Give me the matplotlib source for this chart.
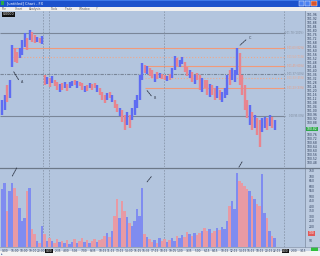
import matplotlib
matplotlib.use("Agg")
import matplotlib.pyplot as plt
from matplotlib.patches import Rectangle

# ---------------- data ----------------
bar_high = [101.11, 101.16, 101.26, 101.31, 101.66, 101.63, 101.59, 101.63, 101.71, 101.78,
            101.73, 101.81, 101.79, 101.76, 101.74, 101.73, 101.75, 101.36, 101.34, 101.33,
            101.35, 101.31, 101.29, 101.27, 101.28, 101.29, 101.27, 101.29, 101.30, 101.31,
            101.30, 101.29, 101.28, 101.25, 101.26, 101.28, 101.27, 101.28, 101.26, 101.23,
            101.19, 101.16, 101.18, 101.19, 101.16, 101.11, 101.07, 101.03, 101.01, 100.96,
            100.99, 100.96, 101.03, 101.11, 101.16, 101.36, 101.48, 101.46, 101.45, 101.43,
            101.41, 101.37, 101.39, 101.38, 101.37, 101.36, 101.35, 101.37, 101.43, 101.55,
            101.53, 101.51, 101.54, 101.49, 101.44, 101.41, 101.39, 101.36, 101.38, 101.36,
            101.33, 101.31, 101.31, 101.27, 101.26, 101.23, 101.25, 101.21, 101.19, 101.23,
            101.36, 101.41, 101.43, 101.41, 101.63, 101.58, 101.36, 101.26, 101.11, 101.06,
            100.99, 100.96, 100.93, 100.91, 100.93, 100.94, 100.93, 100.96, 100.94, 100.91]
bar_low = [100.96, 101.01, 101.09, 101.13, 101.44, 101.49, 101.48, 101.53, 101.56, 101.64,
           101.61, 101.71, 101.69, 101.68, 101.69, 101.68, 101.67, 101.26, 101.27, 101.24,
           101.28, 101.25, 101.21, 101.19, 101.21, 101.23, 101.20, 101.23, 101.25, 101.26,
           101.23, 101.25, 101.21, 101.19, 101.20, 101.23, 101.21, 101.23, 101.19, 101.16,
           101.11, 101.08, 101.11, 101.13, 101.09, 101.03, 100.99, 100.95, 100.89, 100.81,
           100.86, 100.83, 100.91, 100.96, 101.03, 101.11, 101.31, 101.38, 101.37, 101.35,
           101.33, 101.29, 101.32, 101.33, 101.32, 101.31, 101.30, 101.31, 101.33, 101.41,
           101.45, 101.44, 101.47, 101.39, 101.35, 101.33, 101.29, 101.27, 101.31, 101.21,
           101.19, 101.23, 101.16, 101.14, 101.16, 101.11, 101.13, 101.11, 101.09, 101.13,
           101.16, 101.26, 101.31, 101.29, 101.36, 101.26, 101.16, 101.01, 100.93, 100.86,
           100.81, 100.83, 100.76, 100.64, 100.79, 100.83, 100.81, 100.85, 100.83, 100.81]
bar_up = [1, 1, 0, 1, 1, 0, 0, 1, 1, 1, 0, 1, 0, 0, 1, 0, 1,
          0, 1, 0, 1, 0, 0, 1, 0, 1, 0, 1, 1, 0, 1, 0, 0, 1, 0, 1, 0, 0, 1, 0,
          0, 0, 1, 0, 1, 0, 0, 1, 0, 0, 1, 0, 1, 1, 1, 1, 1,
          0, 1, 0, 0, 1, 0, 1, 0, 0, 1, 0, 1,
          1, 0, 1, 1, 0, 0, 1, 0, 1, 0, 0, 1, 0, 0, 1, 0, 0, 1, 0, 1, 1, 1, 0, 1, 1,
          1, 0, 0, 0, 0, 1, 0, 1, 0, 0, 1, 1, 0, 1, 0, 1]
volume = [580, 640, 360, 560, 640, 590, 510, 390, 260, 290,
          560, 590, 180, 130, 60, 40, 210, 130, 60, 90,
          60, 40, 80, 50, 60, 40, 70, 30, 50, 80,
          40, 60, 90, 50, 70, 40, 60, 80, 50, 70,
          80, 110, 140, 100, 160, 310, 480, 290, 460, 360,
          300, 240, 210, 260, 380, 310, 590, 130, 100, 80,
          50, 70, 40, 90, 60, 80, 50, 70, 90, 60,
          110, 90, 120, 100, 150, 130, 110, 140, 120, 140,
          160, 190, 160, 180, 140, 160, 190, 170, 200, 180,
          260, 410, 460, 380, 740, 660, 640, 610, 580, 560,
          510, 480, 430, 410, 730, 340, 290, 160, 110, 90]

level_prices = [101.78, 101.63, 101.54, 101.45, 101.37, 101.33, 101.23, 100.95]
level_labels = ["101.78 (100%)", "101.63 (82%)", "101.54 (71%)", "101.45 (60%)",
                "101.37 (50%)", "101.33 (45%)", "101.23 (33%)", "100.95 (0%)"]
level_start = [-0.8, 4, 4, 57, -0.8, 57, 57, -0.8]
level_color = ["#7a8698", "#f09a7a", "#f0a88a", "#f09a7a", "#7a8698", "#f0a88a", "#f09a7a", "#7a8698"]
level_style = ["-", "-", ":", "-", (0, (3, 1, 1, 1)), ":", "-", "-"]

session_marks = [16.4, 18.8, 64.8, 112.8]

price_ticks = [round(100.48 + 0.04 * k, 2) for k in range(38)]
volume_ticks = [50, 100, 150, 200, 250, 300, 350, 400, 450, 500, 550, 600, 650, 700, 750]

time_labels = ["0:00", "16:00", "18:00", "19:00", "20:00", "0:00", "2:35", "4:00", "5:05",
               "7:00", "8:35", "10:15", "11:15", "13:15", "14:30", "15:15", "16:35", "17:15",
               "18:15", "19:05", "1:00", "3:35", "5:00", "6:15", "8:15", "10:15", "12:15",
               "14:15", "16:15", "18:15", "20:15", "22:15", "0:00", "2:00", "3:15"]
time_boxed = [5, 32]

current_price = 100.82
current_volume = 130

# annotations: (bar index, value, dx px, dy px, letter)
price_notes = [(4, 101.42, 8, -13, "A"), (57.2, 101.23, 8, -10, "B"), (94.4, 101.64, 10, 9, "C")]
volume_notes = [(3.6, 680, 7, 13), (57.2, 620, 8, 10), (94.2, 770, 6, 10)]

# ---------------- figure ----------------
W, H = 320, 256
fig = plt.figure(figsize=(W / 100, H / 100), dpi=100)
BG = "#b3c5de"
BLUE = "#5e6cf2"
PINK = "#e8848e"
VBLUE = "#7f8cf0"
VPINK = "#e89aa4"

chrome = fig.add_axes([0, 0, 1, 1])
chrome.set_xlim(0, W)
chrome.set_ylim(H, 0)
chrome.axis("off")
chrome.add_patch(Rectangle((0, 10), W, 242, color=BG, lw=0))
# title bar
chrome.add_patch(Rectangle((0, 0), W, 6.5, color="#1c52cc", lw=0))
chrome.add_patch(Rectangle((0, 0), W, 1.2, color="#3d78e8", lw=0))
chrome.add_patch(Rectangle((1, 1), 3, 4, color="#2aa84a", lw=0))
chrome.text(7, 3.3, "[untitled] Chart - FX", color="white", fontsize=2.6, va="center")
chrome.add_patch(Rectangle((298.5, 1), 5, 4.5, color="#4a7ff0", ec="white", lw=0.3))
chrome.add_patch(Rectangle((304.5, 1), 5, 4.5, color="#4a7ff0", ec="white", lw=0.3))
chrome.add_patch(Rectangle((310.5, 1), 6, 4.5, color="#d9532b", ec="white", lw=0.3))
# menu bar
chrome.add_patch(Rectangle((0, 6.5), W, 4, color="#efefef", lw=0))
mx = 2
for item in ["File", "Chart", "Analysis", "Tools", "Trade", "Window", "?"]:
    chrome.text(mx, 8.6, item, fontsize=2.2, color="#606060", va="center")
    mx += 4 + 2.1 * len(item)
# right axis column, time strip, status bar
chrome.add_patch(Rectangle((305, 10.5), 15, 236, color="#bccbe0", lw=0))
chrome.plot([305, 305], [10.5, 246.5], color="#8494aa", lw=0.6)
chrome.add_patch(Rectangle((0, 246.5), W, 4.5, color="#c6d2e4", lw=0))
chrome.plot([0, W], [246.5, 246.5], color="#8494aa", lw=0.5)
chrome.add_patch(Rectangle((0, 251), W, 5, color="#f3f3f3", lw=0))
chrome.text(1, 253.6, "\u25b8", fontsize=2.5, color="#4060a0", va="center")
chrome.plot([0, W], [167.5, 167.5], color="#6c7888", lw=0.9)
chrome.add_patch(Rectangle((2, 12), 13, 4.5, color="#111111", lw=0))
chrome.text(8.5, 14.3, "0.0000", color="white", fontsize=2.3, ha="center", va="center")
chrome.add_patch(Rectangle((311, 247), 7, 3.5, color="#2fbf3c", lw=0))

# price axes
x_lo, x_hi = -0.8, 121.2
pax = fig.add_axes([0, 1 - 167 / H, 305 / W, 156 / H])
pax.set_facecolor("none")
pax.set_xlim(x_lo, x_hi)
pax.set_ylim(100.44, 102.00)
pax.axis("off")

for lv, lab, st, col, ls in zip(level_prices, level_labels, level_start, level_color, level_style):
    pax.hlines(lv, st, x_lo + (x_hi - x_lo) * 285 / 305, color=col, lw=0.8, linestyles=[ls], zorder=1)
    pax.text(0.996, lv, lab, transform=pax.get_yaxis_transform(), fontsize=1.8,
             color=col, va="center", ha="right", clip_on=False)

for sm in session_marks:
    pax.axvline(sm, color="#8a98ac", lw=0.6, ls=(0, (2, 1.5)), zorder=1)

idx = list(range(len(bar_high)))
cols = [BLUE if u else PINK for u in bar_up]
pax.vlines(idx, bar_low, bar_high, colors=cols, lw=1.7, zorder=3)

for (bx, bv, dx, dy, letter) in price_notes:
    pax.annotate("", xy=(bx, bv), xytext=(dx * 0.72, dy * 0.72), textcoords="offset points",
                 arrowprops=dict(arrowstyle="-", color="#303848", lw=0.6, ls=(0, (2, 1))), zorder=4)
    pax.annotate(letter, xy=(bx, bv), xytext=(dx * 0.72 + 1.2, dy * 0.72), textcoords="offset points",
                 fontsize=2.4, color="#303848", va="center", ha="center")

for pt in price_ticks:
    if abs(pt - current_price) < 0.035:
        continue
    pax.text(1.006, pt, f"{pt:.2f}", transform=pax.get_yaxis_transform(), fontsize=2.2,
             color="#2a3a58", va="center", ha="left", clip_on=False)
pax.text(1.006, current_price, f"{current_price:.2f}", transform=pax.get_yaxis_transform(),
         fontsize=2.2, color="white", va="center", ha="left", clip_on=False,
         bbox=dict(boxstyle="square,pad=0.15", fc="#2ea84a", ec="none"))

# volume axes
vax = fig.add_axes([0, 1 - 246.5 / H, 305 / W, 78.5 / H])
vax.set_facecolor("none")
vax.set_xlim(x_lo, x_hi)
vax.set_ylim(0, 785)
vax.axis("off")
vcols = [VBLUE if u else VPINK for u in bar_up]
vax.bar(idx, volume, width=0.95, color=vcols, lw=0, zorder=3)
for sm in session_marks:
    vax.axvline(sm, color="#8a98ac", lw=0.6, ls=(0, (2, 1.5)), zorder=1)
for (bx, bv, dx, dy) in volume_notes:
    vax.annotate("", xy=(bx, bv), xytext=(dx * 0.72, dy * 0.72), textcoords="offset points",
                 arrowprops=dict(arrowstyle="-", color="#303848", lw=0.6, ls=(0, (2, 1))), zorder=4)
for vt in volume_ticks:
    if abs(vt - current_volume) < 60:
        continue
    vax.text(1.012, vt, str(vt), transform=vax.get_yaxis_transform(), fontsize=2.2,
             color="#2a3a58", va="center", ha="left", clip_on=False)
vax.text(1.012, current_volume, str(current_volume), transform=vax.get_yaxis_transform(),
         fontsize=2.2, color="white", va="center", ha="left", clip_on=False,
         bbox=dict(boxstyle="square,pad=0.15", fc="#e05a5a", ec="none"))

# time labels
for k, tl in enumerate(time_labels):
    tx = k * 3.5
    boxed = k in time_boxed
    vax.text(tx, -0.03, tl, transform=vax.get_xaxis_transform(), fontsize=2.1,
             color="white" if boxed else "#2a3a58", ha="left", va="top", clip_on=False,
             bbox=dict(boxstyle="square,pad=0.1", fc="#111111", ec="none") if boxed else None)

fig.savefig("out.png", dpi=100)
